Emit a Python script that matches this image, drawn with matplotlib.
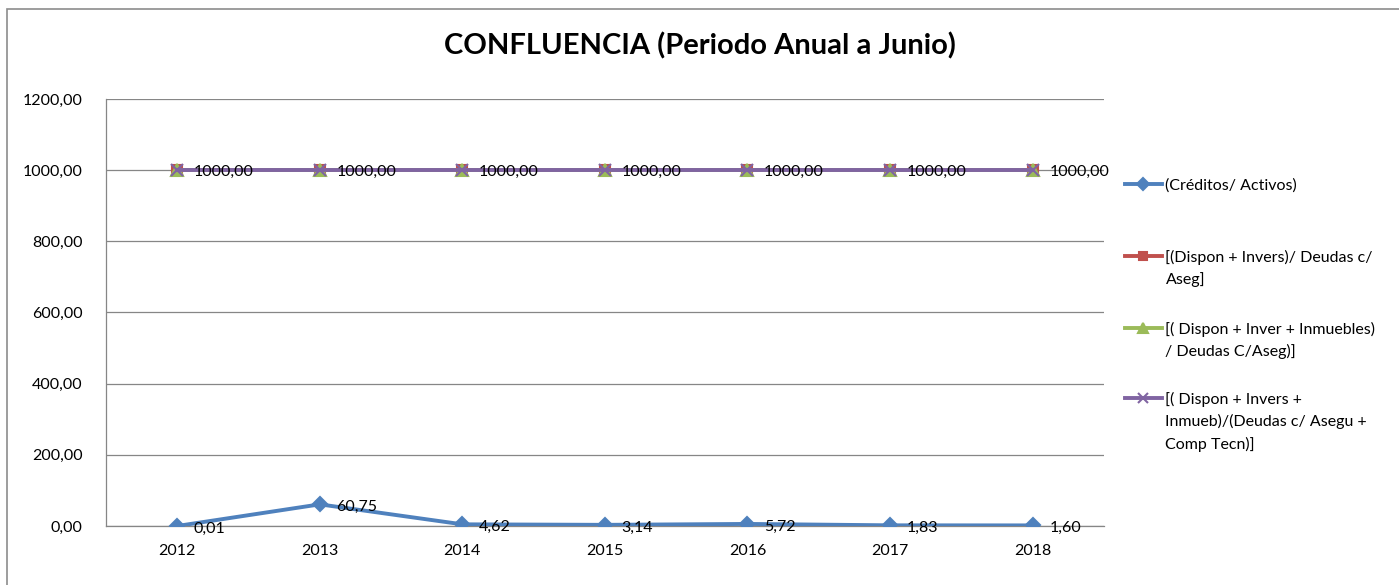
import matplotlib.pyplot as plt
from matplotlib.patches import Rectangle

plt.rcParams['font.family'] = ['Lato', 'DejaVu Sans']

years = ['2012', '2013', '2014', '2015', '2016', '2017', '2018']
creditos_activos = [0.01, 60.75, 4.62, 3.14, 5.72, 1.83, 1.60]
dispon_invers = [1000, 1000, 1000, 1000, 1000, 1000, 1000]
dispon_inver_inmuebles = [1000, 1000, 1000, 1000, 1000, 1000, 1000]
dispon_invers_comp = [1000, 1000, 1000, 1000, 1000, 1000, 1000]

labels = [
    '(Créditos/ Activos)',
    '[(Dispon + Invers)/ Deudas c/\nAseg]',
    '[( Dispon + Inver + Inmuebles)\n/ Deudas C/Aseg)]',
    '[( Dispon + Invers +\nInmueb)/(Deudas c/ Asegu +\nComp Tecn)]',
]
colors = ['#4F81BD', '#C0504D', '#9BBB59', '#8064A2']
markers = ['D', 's', '^', 'x']
yticks = [0, 200, 400, 600, 800, 1000, 1200]


def fmt(v):
    return f'{v:.2f}'.replace('.', ',')


fig = plt.figure(figsize=(13.99, 5.85), dpi=100)
ax = fig.add_axes([0.0758, 0.1009, 0.7132, 0.7299])

# outer chart border (only top/left visible in the screenshot)
fig.patches.append(Rectangle((7 / 1399, -0.1), 1.2, (585 - 9) / 585 + 0.1,
                             transform=fig.transFigure, fill=False,
                             edgecolor='#8c8c8c', linewidth=1.2))

x = list(range(len(years)))
series = [creditos_activos, dispon_invers, dispon_inver_inmuebles, dispon_invers_comp]
msizes = [7.5, 7.5, 8, 8]
lines = []
for vals, lab, c, m, ms in zip(series, labels, colors, markers, msizes):
    ln, = ax.plot(x, vals, color=c, marker=m, markersize=ms, linewidth=2.8,
                  label=lab, markeredgewidth=1.5, zorder=3)
    lines.append(ln)

for xi, v in zip(x, creditos_activos):
    ax.annotate(fmt(v), (xi, v), xytext=(12, -2), textcoords='offset points',
                ha='left', va='center', fontsize=11.5, color='black', zorder=5)
for xi, v in zip(x, dispon_invers_comp):
    ax.annotate(fmt(v), (xi, v), xytext=(12, -1.5), textcoords='offset points',
                ha='left', va='center', fontsize=11.5, color='black', zorder=5)

ax.set_xlim(-0.5, len(years) - 0.5)
ax.set_ylim(0, 1200)
ax.set_xticks(x)
ax.set_xticklabels(years)
ax.set_yticks(yticks)
ax.set_yticklabels([fmt(v) for v in yticks])
ax.tick_params(axis='both', length=0, labelsize=11.5)
ax.tick_params(axis='y', pad=17)
ax.tick_params(axis='x', pad=13)
ax.grid(axis='y', color='#868686', linewidth=0.9)
ax.set_axisbelow(True)
for s in ['top', 'right']:
    ax.spines[s].set_visible(False)
for s in ['left', 'bottom']:
    ax.spines[s].set_color('#868686')
    ax.spines[s].set_linewidth(0.9)

fig.text(0.5, 0.922, 'CONFLUENCIA (Periodo Anual a Junio)', ha='center',
         va='center', fontsize=21, fontweight='bold')

# one legend per entry, like Excel's evenly spaced legend slots
entry_px = [187, 259, 331, 401]
for i, (ln, lab, ypx) in enumerate(zip(lines, labels, entry_px)):
    yfrac = (526 - (ypx - 9)) / 427
    leg = ax.legend([ln], [lab], loc='upper left', bbox_to_anchor=(1.021, yfrac),
                    frameon=False, fontsize=11.5, handlelength=2.3,
                    handletextpad=0.25, borderaxespad=0, borderpad=0,
                    markerscale=0.85)
    for t in leg.get_texts():
        t.set_linespacing(1.6)
    for row in leg._legend_handle_box.get_children()[0].get_children():
        row.align = 'top'
    if i < len(lines) - 1:
        ax.add_artist(leg)

fig.savefig('out.png', dpi=100)
